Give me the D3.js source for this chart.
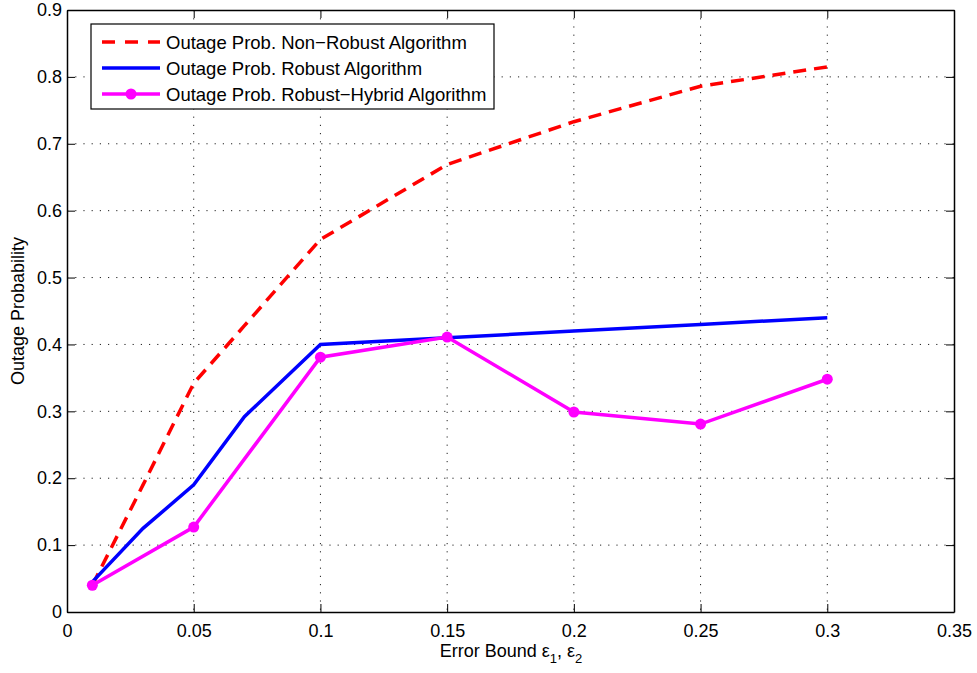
<!DOCTYPE html>
<html>
<head>
<meta charset="utf-8">
<script src="https://cdn.jsdelivr.net/npm/d3@7"></script>
<style>
body { margin: 0; background: #fff; }
text { font-family: "Liberation Sans", Arial, sans-serif; }
</style>
</head>
<body>
<script>
var w = 977;
var h = 673;

var xValues = [0.01, 0.03, 0.05, 0.07, 0.1, 0.15, 0.2, 0.25, 0.3];
var nonRobust = [0.04, 0.19, 0.342, 0.428, 0.557, 0.669, 0.733, 0.786, 0.815];
var robust = [0.045, 0.125, 0.19, 0.292, 0.40, 0.41, 0.42, 0.43, 0.44];
var hybridX = [0.01, 0.05, 0.1, 0.15, 0.2, 0.25, 0.3];
var hybrid = [0.040, 0.127, 0.381, 0.411, 0.299, 0.281, 0.348];
var xTicks = [0, 0.05, 0.1, 0.15, 0.2, 0.25, 0.3, 0.35];
var yTicks = [0, 0.1, 0.2, 0.3, 0.4, 0.5, 0.6, 0.7, 0.8, 0.9];
var legendNames = ["Outage Prob. Non\u2212Robust Algorithm", "Outage Prob. Robust Algorithm", "Outage Prob. Robust\u2212Hybrid Algorithm"];

var pLeft = 67, pRight = 954, pTop = 10, pBottom = 612;
var fontSize = "18px";

var svg = d3.select("body")
    .append("svg")
    .attr("width", w)
    .attr("height", h);

var x = d3.scaleLinear().domain([0, 0.35]).range([pLeft, pRight]);
var y = d3.scaleLinear().domain([0, 0.9]).range([pBottom, pTop]);

// grid
svg.selectAll(".gx")
    .data(xTicks.slice(1, -1))
    .enter()
    .append("line")
    .attr("x1", function(d) { return x(d); })
    .attr("x2", function(d) { return x(d); })
    .attr("y1", pTop)
    .attr("y2", pBottom)
    .attr("stroke", "#222")
    .attr("stroke-width", 1)
    .attr("stroke-dasharray", "1.2,7");

svg.selectAll(".gy")
    .data(yTicks.slice(1, -1))
    .enter()
    .append("line")
    .attr("x1", pLeft)
    .attr("x2", pRight)
    .attr("y1", function(d) { return y(d); })
    .attr("y2", function(d) { return y(d); })
    .attr("stroke", "#222")
    .attr("stroke-width", 1)
    .attr("stroke-dasharray", "1.2,7");

// axes (ticks inward, box)
var fmt = function(d) { return d3.format("~g")(d); };
svg.append("g")
    .attr("transform", "translate(0," + pBottom + ")")
    .call(d3.axisBottom(x).tickValues(xTicks).tickFormat(fmt).tickSizeInner(-8).tickSizeOuter(0).tickPadding(12));
svg.append("g")
    .attr("transform", "translate(0," + pTop + ")")
    .call(d3.axisTop(x).tickValues(xTicks).tickFormat("").tickSizeInner(-8).tickSizeOuter(0));
svg.append("g")
    .attr("transform", "translate(" + pLeft + ",0)")
    .call(d3.axisLeft(y).tickValues(yTicks).tickFormat(fmt).tickSizeInner(-8).tickSizeOuter(0).tickPadding(5));
svg.append("g")
    .attr("transform", "translate(" + pRight + ",0)")
    .call(d3.axisRight(y).tickValues(yTicks).tickFormat("").tickSizeInner(-8).tickSizeOuter(0));

svg.selectAll(".domain").attr("stroke", "#000").attr("stroke-width", 1.5);
svg.selectAll(".tick line").attr("stroke", "#000");
svg.selectAll(".tick text")
    .attr("font-size", fontSize)
    .attr("fill", "#000")
    .style("font-family", "'Liberation Sans', Arial, sans-serif");

// series
var line = d3.line()
    .x(function(d) { return x(d[0]); })
    .y(function(d) { return y(d[1]); });

svg.append("path")
    .datum(d3.zip(xValues, nonRobust))
    .attr("d", line)
    .attr("fill", "none")
    .attr("stroke", "#ff0000")
    .attr("stroke-width", 3.5)
    .attr("stroke-dasharray", "13,8");

svg.append("path")
    .datum(d3.zip(xValues, robust))
    .attr("d", line)
    .attr("fill", "none")
    .attr("stroke", "#0000ff")
    .attr("stroke-width", 3.5);

svg.append("path")
    .datum(d3.zip(hybridX, hybrid))
    .attr("d", line)
    .attr("fill", "none")
    .attr("stroke", "#ff00ff")
    .attr("stroke-width", 3.5);

svg.selectAll(".dot")
    .data(d3.zip(hybridX, hybrid))
    .enter()
    .append("circle")
    .attr("cx", function(d) { return x(d[0]); })
    .attr("cy", function(d) { return y(d[1]); })
    .attr("r", 5.5)
    .attr("fill", "#ff00ff");

// legend
var lg = svg.append("g");
lg.append("rect")
    .attr("x", 91)
    .attr("y", 24)
    .attr("width", 403)
    .attr("height", 85)
    .attr("fill", "#fff")
    .attr("stroke", "#000")
    .attr("stroke-width", 1.2);

var legendStyles = [
    { color: "#ff0000", dash: "13,10", dot: false },
    { color: "#0000ff", dash: null, dot: false },
    { color: "#ff00ff", dash: null, dot: true }
];

legendNames.forEach(function(name, i) {
    var ly = 42 + i * 26;
    var s = legendStyles[i];
    lg.append("line")
        .attr("x1", 102).attr("x2", 160)
        .attr("y1", ly).attr("y2", ly)
        .attr("stroke", s.color)
        .attr("stroke-width", 3.5)
        .attr("stroke-dasharray", s.dash);
    if (s.dot) {
        lg.append("circle")
            .attr("cx", 131).attr("cy", ly)
            .attr("r", 5.5)
            .attr("fill", s.color);
    }
    lg.append("text")
        .attr("x", 166)
        .attr("y", ly + 7)
        .attr("font-size", "18.5px")
        .attr("fill", "#000")
        .text(name);
});

// axis labels
var xl = svg.append("text")
    .attr("x", 511)
    .attr("y", 657)
    .attr("text-anchor", "middle")
    .attr("font-size", fontSize)
    .attr("fill", "#000");
xl.append("tspan").text("Error Bound \u03b5");
xl.append("tspan").attr("font-size", "13px").attr("dy", 6).text("1");
xl.append("tspan").attr("dy", -6).text(", \u03b5");
xl.append("tspan").attr("font-size", "13px").attr("dy", 6).text("2");

svg.append("text")
    .attr("transform", "translate(24," + ((pTop + pBottom) / 2) + ") rotate(-90)")
    .attr("text-anchor", "middle")
    .attr("font-size", fontSize)
    .attr("fill", "#000")
    .text("Outage Probability");
</script>
</body>
</html>
